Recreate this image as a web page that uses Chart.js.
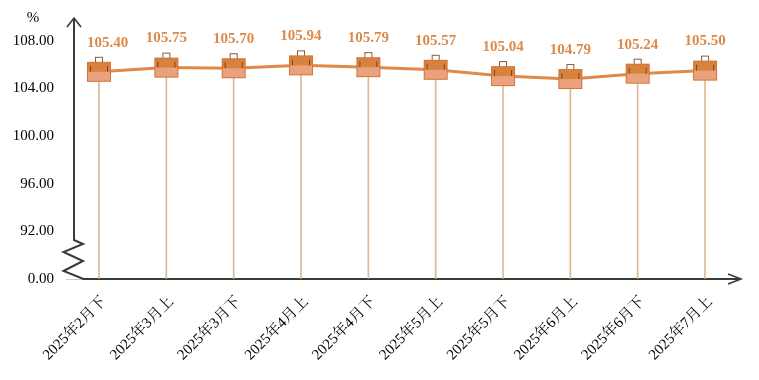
<!DOCTYPE html>
<html>
<head>
<meta charset="utf-8">
<script src="https://cdn.jsdelivr.net/npm/chart.js@4/dist/chart.umd.min.js"></script>
<style>
  html, body { margin: 0; padding: 0; background: #ffffff; }
  #wrap { width: 759px; height: 380px; position: relative; }
</style>
</head>
<body>
<div id="wrap"><canvas id="c" width="759" height="380"></canvas></div>
<script>
const categories = ['2025年2月下','2025年3月上','2025年3月下','2025年4月上','2025年4月下','2025年5月上','2025年5月下','2025年6月上','2025年6月下','2025年7月上'];
const values = [105.40, 105.75, 105.70, 105.94, 105.79, 105.57, 105.04, 104.79, 105.24, 105.50];
const yTickValues = [88, 92, 96, 100, 104, 108];
const yTickLabels = ['0.00', '92.00', '96.00', '100.00', '104.00', '108.00'];

const SERIF = "'Liberation Serif', 'Noto Serif CJK SC', 'Noto Sans CJK SC', serif";
const ORANGE = '#E0894A';
const LABEL_COLOR = '#DC8A4A';

function makeBriefcase() {
  const cv = document.createElement('canvas');
  cv.width = 26; cv.height = 34;
  const g = cv.getContext('2d');
  g.fillStyle = '#ffffff';
  g.strokeStyle = '#8a5a38';
  g.lineWidth = 1;
  g.fillRect(9.5, 2.5, 7, 5);
  g.strokeRect(9.5, 2.5, 7, 5);
  g.fillStyle = '#EAA27E';
  g.fillRect(1, 17, 24, 10);
  g.fillStyle = '#D9823F';
  g.fillRect(1, 7, 24, 10);
  g.strokeStyle = '#D07636';
  g.lineWidth = 1;
  g.strokeRect(1.5, 7.5, 23, 19);
  g.strokeStyle = '#7a4422';
  g.beginPath();
  g.moveTo(4.5, 11); g.lineTo(4.5, 17);
  g.moveTo(21.5, 11); g.lineTo(21.5, 17);
  g.stroke();
  return cv;
}
const briefcase = makeBriefcase();

const axesPlugin = {
  id: 'axesPlugin',
  beforeDatasetsDraw(chart) {
    const ctx = chart.ctx;
    const a = chart.chartArea;
    const L = a.left, B = a.bottom;
    ctx.save();
    ctx.strokeStyle = '#cccccc';
    ctx.lineWidth = 1;
    ctx.beginPath();
    ctx.moveTo(L - 8, B + 0.5); ctx.lineTo(L + 9, B + 0.5);
    ctx.stroke();
    ctx.strokeStyle = '#3a3a3a';
    ctx.lineWidth = 2;
    ctx.lineJoin = 'miter';
    ctx.beginPath();
    ctx.moveTo(L, a.top + 1);
    ctx.lineTo(L, B - 39);
    ctx.lineTo(L + 9, B - 35);
    ctx.lineTo(L - 10.5, B - 27);
    ctx.lineTo(L + 9, B - 18);
    ctx.lineTo(L - 10.5, B - 8);
    ctx.lineTo(L + 9.5, B);
    ctx.lineTo(a.right - 3, B);
    ctx.stroke();
    ctx.lineWidth = 1.6;
    ctx.beginPath();
    ctx.moveTo(L - 7, a.top + 10);
    ctx.lineTo(L, a.top + 1);
    ctx.lineTo(L + 7, a.top + 10);
    ctx.stroke();
    ctx.beginPath();
    ctx.moveTo(a.right - 16, B - 5);
    ctx.lineTo(a.right - 3, B);
    ctx.lineTo(a.right - 16, B + 5);
    ctx.stroke();
    ctx.fillStyle = '#000';
    ctx.font = '15px ' + SERIF;
    ctx.textAlign = 'center';
    ctx.textBaseline = 'middle';
    ctx.fillText('%', L - 41, a.top + 1);
    ctx.restore();
  }
};

const valueLabelPlugin = {
  id: 'valueLabels',
  afterDatasetsDraw(chart) {
    const ctx = chart.ctx;
    const meta = chart.getDatasetMeta(1);
    const a = chart.chartArea;
    ctx.save();
    ctx.font = 'bold 15px ' + SERIF;
    ctx.fillStyle = LABEL_COLOR;
    ctx.textBaseline = 'middle';
    ctx.textAlign = 'left';
    meta.data.forEach((pt, i) => {
      const txt = values[i].toFixed(2);
      const w = ctx.measureText(txt).width;
      let left = pt.x - w / 2;
      if (left < a.left + 13) left = a.left + 13;
      ctx.fillText(txt, left, pt.y - 29);
    });
    ctx.restore();
  }
};

const xy = values.map((v, i) => ({ x: i, y: v }));

new Chart(document.getElementById('c'), {
  type: 'line',
  data: {
    datasets: [
      {
        type: 'bar',
        data: xy,
        backgroundColor: 'rgba(218,165,120,0.8)',
        borderWidth: 0,
        barThickness: 1,
        order: 2
      },
      {
        type: 'line',
        data: xy,
        borderColor: ORANGE,
        borderWidth: 3,
        tension: 0,
        pointStyle: briefcase,
        pointRadius: 12,
        order: 1
      }
    ]
  },
  plugins: [axesPlugin, valueLabelPlugin],
  options: {
    responsive: false,
    animation: false,
    events: [],
    layout: { padding: { top: 17, right: 14, left: 0, bottom: 0 } },
    plugins: { legend: { display: false }, tooltip: { enabled: false } },
    scales: {
      x: {
        type: 'linear',
        offset: false,
        min: -0.371,
        max: 9.579,
        grid: { display: false, drawTicks: false, offset: false },
        border: { display: false },
        afterBuildTicks(scale) { scale.ticks = categories.map((_, i) => ({ value: i })); },
        afterFit(scale) {
          scale.height = 101;
          scale.paddingLeft = 0; scale.paddingRight = 0;
          scale.paddingTop = 0; scale.paddingBottom = 0;
        },
        ticks: {
          autoSkip: false,
          minRotation: 45,
          maxRotation: 45,
          padding: 14,
          labelOffset: 5,
          color: '#000',
          font: { size: 15, family: SERIF },
          callback: (v) => categories[v] !== undefined ? categories[v] : ''
        }
      },
      y: {
        min: 88,
        max: 110,
        grid: { display: false, drawTicks: false },
        border: { display: false },
        afterBuildTicks(scale) { scale.ticks = yTickValues.map(v => ({ value: v })); },
        afterFit(scale) {
          scale.width = 74;
          scale.paddingLeft = 0; scale.paddingRight = 0;
          scale.paddingTop = 0; scale.paddingBottom = 0;
        },
        ticks: {
          padding: 20,
          color: '#000',
          font: { size: 15, family: SERIF },
          callback: (v) => { const k = yTickValues.indexOf(v); return k >= 0 ? yTickLabels[k] : ''; }
        }
      }
    }
  }
});
</script>
</body>
</html>
